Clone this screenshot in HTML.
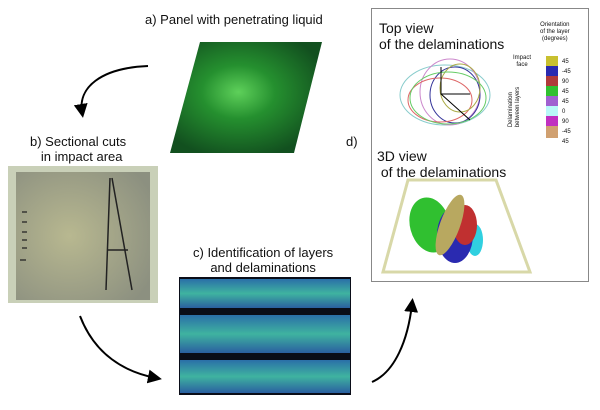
<!DOCTYPE html>
<html><head><style>
body{margin:0;width:600px;height:410px;background:#fff;position:relative;overflow:hidden;font-family:"Liberation Sans",sans-serif;color:#111}
.t{position:absolute;font-size:13px;line-height:15px;white-space:nowrap}
.s{position:absolute;font-size:6px;line-height:7px}
</style></head><body>
<svg width="600" height="410" style="position:absolute;left:0;top:0">
<defs>
<marker id="ah" markerWidth="14" markerHeight="14" refX="8" refY="7" orient="auto" markerUnits="userSpaceOnUse"><path d="M0,0 L14,7 L0,14z" fill="#000"/></marker>
<linearGradient id="gb" x1="0" y1="0" x2="0" y2="1"><stop offset="0" stop-color="#2a6fa8"/><stop offset="0.5" stop-color="#3fb3a0"/><stop offset="1" stop-color="#2a5fa0"/></linearGradient>
<radialGradient id="gg" cx="0.45" cy="0.45" r="0.6"><stop offset="0" stop-color="#5ed05a"/><stop offset="0.4" stop-color="#25902f"/><stop offset="1" stop-color="#12501f"/></radialGradient>
<radialGradient id="gp" cx="0.4" cy="0.5" r="0.7"><stop offset="0" stop-color="#b8b890"/><stop offset="1" stop-color="#8c9080"/></radialGradient>
</defs>
<polygon points="200,42 322,42 294,153 170,153" fill="url(#gg)"/>
<path d="M148,66 C100,68 78,88 82,112" stroke="#000" stroke-width="2" fill="none" marker-end="url(#ah)"/>
<path d="M80,316 C95,355 125,372 156,378" stroke="#000" stroke-width="2" fill="none" marker-end="url(#ah)"/>
<path d="M372,382 C395,372 408,340 412,304" stroke="#000" stroke-width="2" fill="none" marker-end="url(#ah)"/>
<rect x="8" y="166" width="150" height="137" fill="#c9d0b8"/>
<rect x="16" y="172" width="134" height="128" fill="url(#gp)"/>
<path d="M110,178 L106,290 M112,178 L132,290 M107,250 L128,250" stroke="#222" stroke-width="1.5" fill="none"/>
<path d="M22,212h5M22,222h5M22,232h5M22,240h5M22,248h5M20,260h6" stroke="#222" stroke-width="1.2"/>
<rect x="179" y="277" width="172" height="118" fill="#0a0d18"/>
<rect x="180" y="279" width="170" height="29" fill="url(#gb)"/>
<rect x="180" y="315" width="170" height="38" fill="url(#gb)"/>
<rect x="180" y="360" width="170" height="33" fill="url(#gb)"/>
<rect x="371.5" y="8.5" width="217" height="273" fill="#fff" stroke="#888"/>
<g fill="none" stroke-width="1">
<ellipse cx="445" cy="95" rx="45" ry="30" stroke="#8cc"/>
<ellipse cx="450" cy="92" rx="30" ry="33" stroke="#c8c"/>
<ellipse cx="455" cy="95" rx="25" ry="28" stroke="#339"/>
<ellipse cx="440" cy="100" rx="32" ry="22" stroke="#d66"/>
<ellipse cx="460" cy="88" rx="20" ry="24" stroke="#aa4"/>
<ellipse cx="448" cy="98" rx="38" ry="26" stroke="#6c6"/>
<path d="M441,67 V94 H470 M441,94 L470,120" stroke="#000"/>
</g>
<rect x="546" y="56" width="12" height="10" fill="#c8c030"/>
<rect x="546" y="66" width="12" height="10" fill="#2a2ab0"/>
<rect x="546" y="76" width="12" height="10" fill="#b03a3a"/>
<rect x="546" y="86" width="12" height="10" fill="#30c030"/>
<rect x="546" y="96" width="12" height="10" fill="#a060d0"/>
<rect x="546" y="106" width="12" height="10" fill="#b8f8f8"/>
<rect x="546" y="116" width="12" height="10" fill="#c030c0"/>
<rect x="546" y="126" width="12" height="12" fill="#d0a070"/>
<polygon points="408,180 496,180 530,272 383,272" fill="none" stroke="#d8d8a8" stroke-width="3"/>
<ellipse cx="430" cy="225" rx="20" ry="28" fill="#30c030" transform="rotate(-15 430 225)"/>
<ellipse cx="475" cy="240" rx="8" ry="16" fill="#30d0e0"/>
<ellipse cx="455" cy="235" rx="18" ry="28" fill="#2a2ab0"/>
<ellipse cx="465" cy="225" rx="12" ry="20" fill="#c03030"/>
<ellipse cx="450" cy="225" rx="10" ry="32" fill="#b8a860" transform="rotate(20 450 225)"/>
</svg>
<div class="t" style="left:145px;top:12px">a) Panel with penetrating liquid</div>
<div class="t" style="left:30px;top:134px">b) Sectional cuts<br>&nbsp;&nbsp;&nbsp;in impact area</div>
<div class="t" style="left:193px;top:245px;text-align:center">c) Identification of layers<br>and delaminations</div>
<div class="t" style="left:346px;top:134px">d)</div>
<div class="t" style="left:379px;top:20px;font-size:14px;line-height:16px">Top view<br>of the delaminations</div>
<div class="t" style="left:377px;top:148px;font-size:14px;line-height:16px">3D view<br>&nbsp;of the delaminations</div>
<div class="s" style="left:540px;top:22px;text-align:center">Orientation<br>of the layer<br>(degrees)</div>
<div class="s" style="left:513px;top:55px;text-align:center">Impact<br>face</div>
<div class="s" style="left:562px;top:57px;line-height:10px">45<br>-45<br>90<br>45<br>45<br>0<br>90<br>-45<br>45</div>
<div class="s" style="left:495px;top:100px;transform:rotate(-90deg);font-size:6px">Delamination<br>between layers</div>
</body></html>
